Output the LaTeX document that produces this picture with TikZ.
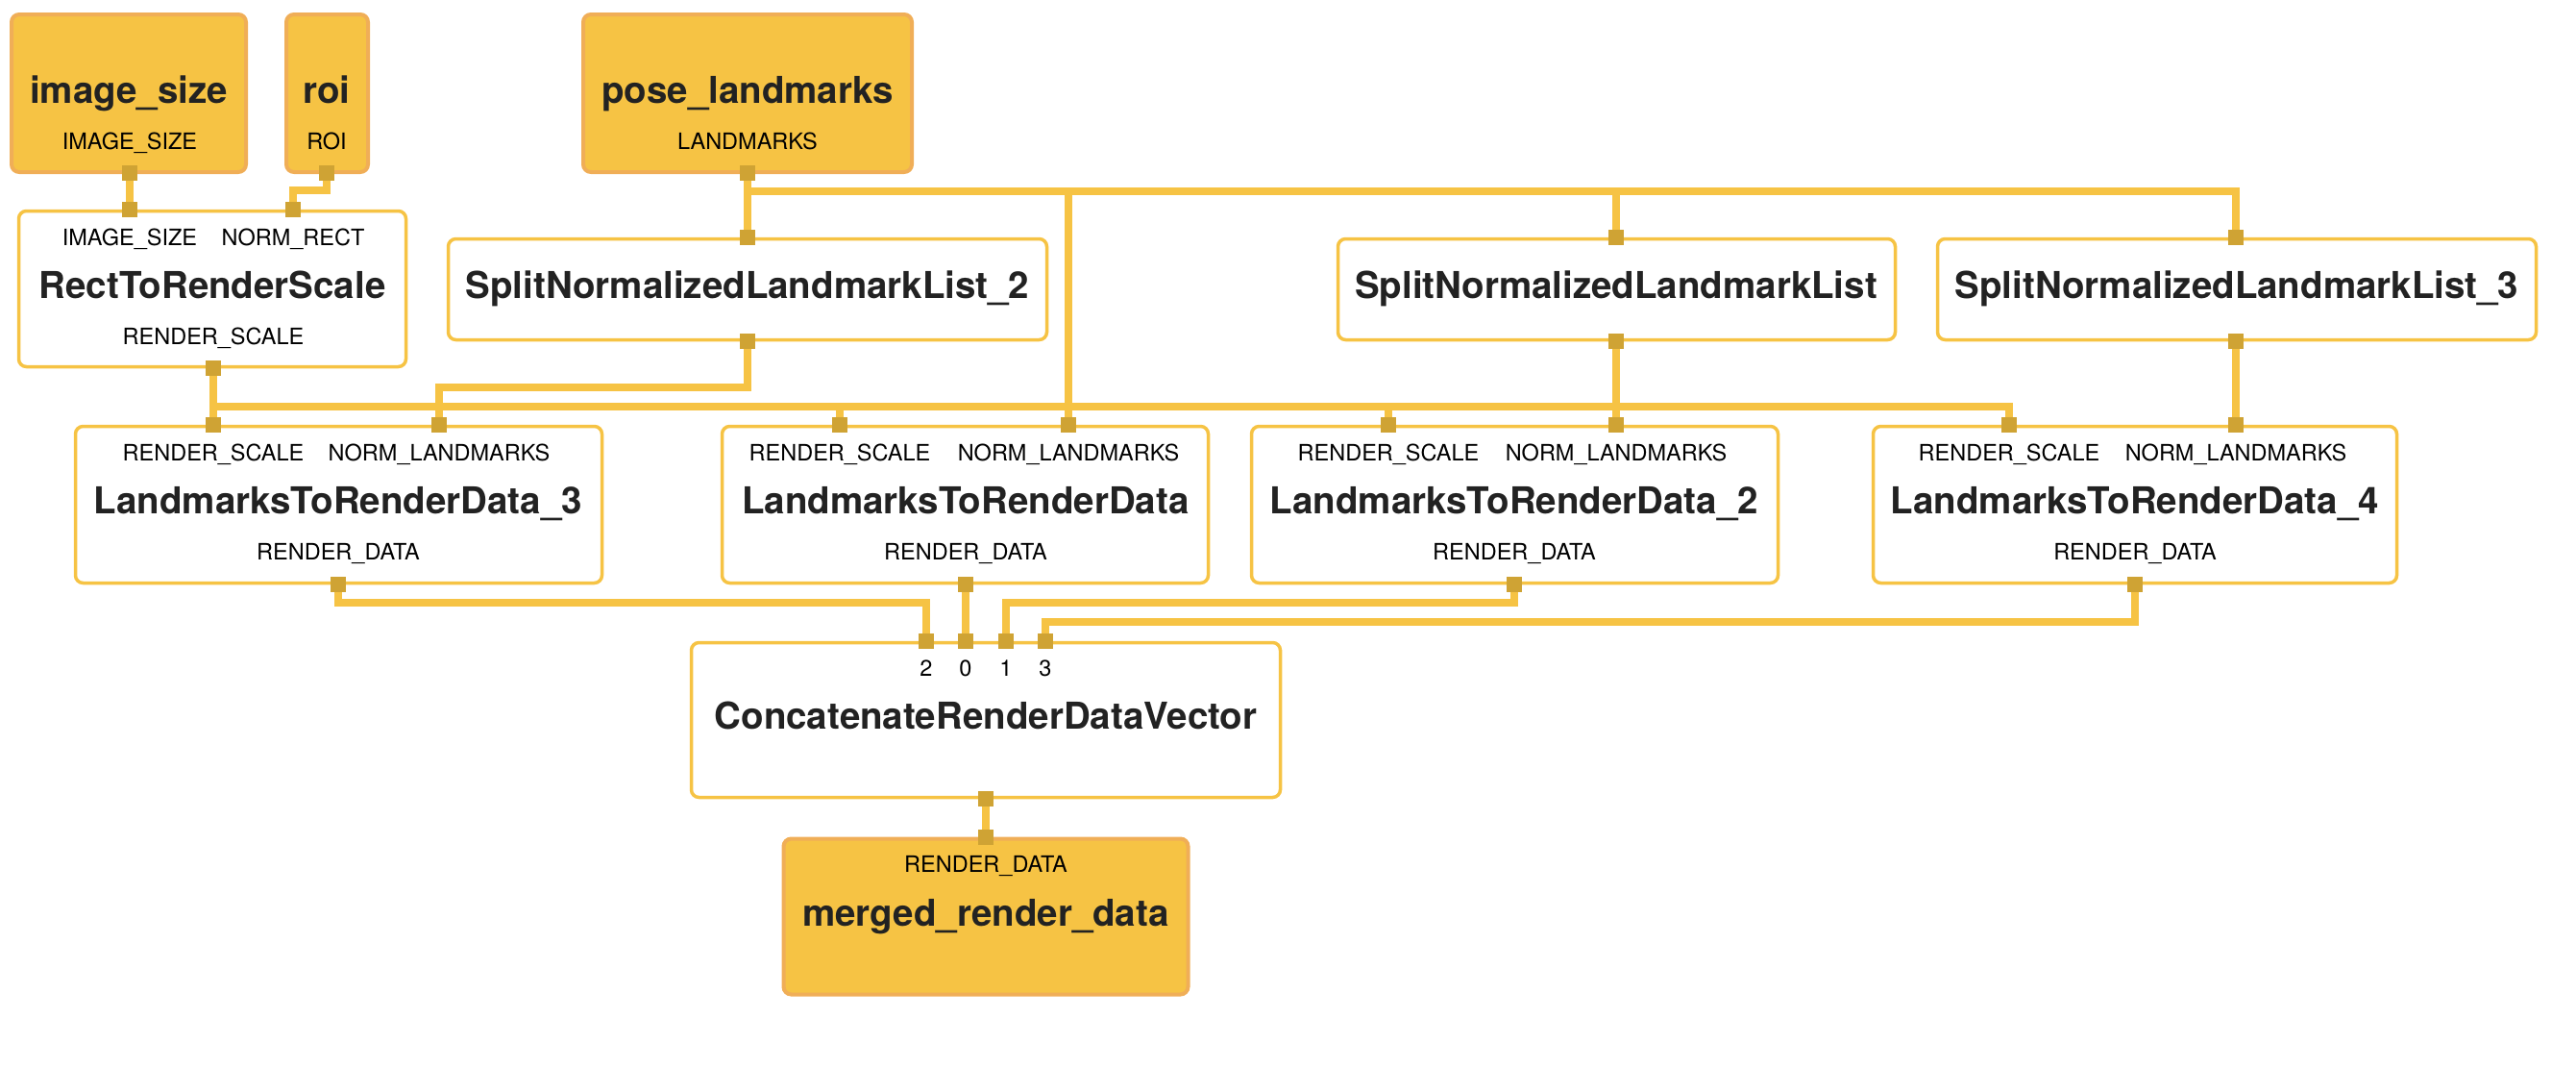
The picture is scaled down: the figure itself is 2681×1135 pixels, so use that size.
\documentclass[tikz,border=0pt]{standalone}
\usepackage{fontspec}
\setmainfont{TeX Gyre Heros}
\definecolor{edgecol}{HTML}{F6C344}
\definecolor{portcol}{HTML}{CFA334}
\definecolor{datafill}{HTML}{F6C344}
\definecolor{databorder}{HTML}{F0AE57}
\definecolor{txtcol}{HTML}{222222}
\begin{document}
\begin{tikzpicture}[x=1pt,y=-1pt,
  box/.style={draw=edgecol,line width=3.5pt,rounded corners=8pt,fill=white,inner sep=0},
  data/.style={draw=databorder,line width=4pt,rounded corners=8pt,fill=datafill,inner sep=0},
  port/.style={fill=portcol,minimum size=16pt,inner sep=0},
  edge/.style={draw=edgecol,line width=7.5pt},
  title/.style={anchor=base,font=\fontsize{38.5}{44}\selectfont\bfseries,text=txtcol,inner sep=0},
  lbl/.style={anchor=base,font=\fontsize{23.5}{28}\selectfont,text=black,inner sep=0}]
\useasboundingbox (0,0) rectangle (2681,1135);
% input streams
\node[data,minimum width=244pt,minimum height=164pt] (imgsize) at (134,97) {};
\node[title] (imgsize-t) at (134,107) {image\_size};
\node[lbl] (imgsize-l) at (135,155) {IMAGE\_SIZE};
\node[data,minimum width=85pt,minimum height=164pt] (roi) at (340.5,97) {};
\node[title] (roi-t) at (340,107) {roi};
\node[lbl] (roi-l) at (340,155) {ROI};
\node[data,minimum width=342pt,minimum height=164pt] (pose) at (778,97) {};
\node[title] (pose-t) at (778,107) {pose\_landmarks};
\node[lbl] (pose-l) at (778,155) {LANDMARKS};
% calculators
\node[box,minimum width=403pt,minimum height=162pt] (rect) at (221,300.5) {};
\node[lbl] (rect-l1) at (135,255) {IMAGE\_SIZE};
\node[lbl] (rect-l2) at (305,255) {NORM\_RECT};
\node[title] (rect-t) at (221,310) {RectToRenderScale};
\node[lbl] (rect-l3) at (222,358) {RENDER\_SCALE};
\node[box,minimum width=623pt,minimum height=105pt] (split2) at (778,301) {};
\node[title] (split2-t) at (778,310) {SplitNormalizedLandmarkList\_2};
\node[box,minimum width=580pt,minimum height=105pt] (split) at (1682.5,301) {};
\node[title] (split-t) at (1682,310) {SplitNormalizedLandmarkList};
\node[box,minimum width=623pt,minimum height=105pt] (split3) at (2328,301) {};
\node[title] (split3-t) at (2328,310) {SplitNormalizedLandmarkList\_3};
\node[box,minimum width=548pt,minimum height=163pt] (l2rd3) at (352.5,525) {};
\node[lbl] (l2rd3-l1) at (222,479) {RENDER\_SCALE};
\node[lbl] (l2rd3-l2) at (457,479) {NORM\_LANDMARKS};
\node[title] (l2rd3-t) at (352,534) {LandmarksToRenderData\_3};
\node[lbl] (l2rd3-l3) at (352,582) {RENDER\_DATA};
\node[box,minimum width=506pt,minimum height=163pt] (l2rd) at (1004.5,525) {};
\node[lbl] (l2rd-l1) at (874,479) {RENDER\_SCALE};
\node[lbl] (l2rd-l2) at (1112,479) {NORM\_LANDMARKS};
\node[title] (l2rd-t) at (1005,534) {LandmarksToRenderData};
\node[lbl] (l2rd-l3) at (1005,582) {RENDER\_DATA};
\node[box,minimum width=548pt,minimum height=163pt] (l2rd2) at (1576.5,525) {};
\node[lbl] (l2rd2-l1) at (1445,479) {RENDER\_SCALE};
\node[lbl] (l2rd2-l2) at (1682,479) {NORM\_LANDMARKS};
\node[title] (l2rd2-t) at (1576,534) {LandmarksToRenderData\_2};
\node[lbl] (l2rd2-l3) at (1576,582) {RENDER\_DATA};
\node[box,minimum width=545pt,minimum height=163pt] (l2rd4) at (2222,525) {};
\node[lbl] (l2rd4-l1) at (2091,479) {RENDER\_SCALE};
\node[lbl] (l2rd4-l2) at (2327,479) {NORM\_LANDMARKS};
\node[title] (l2rd4-t) at (2222,534) {LandmarksToRenderData\_4};
\node[lbl] (l2rd4-l3) at (2222,582) {RENDER\_DATA};
\node[box,minimum width=613pt,minimum height=161pt] (concat) at (1026,749) {};
\node[lbl] (concat-l2) at (964,703) {2};
\node[lbl] (concat-l0) at (1005,703) {0};
\node[lbl] (concat-l1) at (1047,703) {1};
\node[lbl] (concat-l3) at (1088,703) {3};
\node[title] (concat-t) at (1026,758) {ConcatenateRenderDataVector};
% output stream
\node[data,minimum width=421pt,minimum height=162pt] (merged) at (1026,953.5) {};
\node[lbl] (merged-l) at (1026,907) {RENDER\_DATA};
\node[title] (merged-t) at (1026,963) {merged\_render\_data};
% ports
\node[port] (imgsize-o) at (135,180) {};
\node[port] (roi-o) at (340,180) {};
\node[port] (pose-o) at (778,180) {};
\node[port] (rect-i1) at (135,218) {};
\node[port] (rect-i2) at (305,218) {};
\node[port] (rect-o) at (222,383) {};
\node[port] (split2-i) at (778,247) {};
\node[port] (split2-o) at (778,355) {};
\node[port] (split-i) at (1682,247) {};
\node[port] (split-o) at (1682,355) {};
\node[port] (split3-i) at (2327,247) {};
\node[port] (split3-o) at (2327,355) {};
\node[port] (l2rd3-i1) at (222,442) {};
\node[port] (l2rd3-i2) at (457,442) {};
\node[port] (l2rd3-o) at (352,608) {};
\node[port] (l2rd-i1) at (874,442) {};
\node[port] (l2rd-i2) at (1112,442) {};
\node[port] (l2rd-o) at (1005,608) {};
\node[port] (l2rd2-i1) at (1445,442) {};
\node[port] (l2rd2-i2) at (1682,442) {};
\node[port] (l2rd2-o) at (1576,608) {};
\node[port] (l2rd4-i1) at (2091,442) {};
\node[port] (l2rd4-i2) at (2327,442) {};
\node[port] (l2rd4-o) at (2222,608) {};
\node[port] (concat-i2) at (964,667) {};
\node[port] (concat-i0) at (1005,667) {};
\node[port] (concat-i1) at (1047,667) {};
\node[port] (concat-i3) at (1088,667) {};
\node[port] (concat-o) at (1026,831) {};
\node[port] (merged-i) at (1026,871) {};
% connections
\draw[edge] (imgsize-o) -- (rect-i1);
\draw[edge] (roi-o) -- ++(0,18) -| (rect-i2);
\draw[edge] (pose-o) -- ++(0,19) -| (split2-i);
\draw[edge] (pose-o) -- ++(0,19) -| (l2rd-i2);
\draw[edge] (pose-o) -- ++(0,19) -| (split-i);
\draw[edge] (pose-o) -- ++(0,19) -| (split3-i);
\draw[edge] (rect-o) -- ++(0,40) -| (l2rd3-i1);
\draw[edge] (rect-o) -- ++(0,40) -| (l2rd-i1);
\draw[edge] (rect-o) -- ++(0,40) -| (l2rd2-i1);
\draw[edge] (rect-o) -- ++(0,40) -| (l2rd4-i1);
\draw[edge] (split2-o) -- ++(0,48) -| (l2rd3-i2);
\draw[edge] (split-o) -- (l2rd2-i2);
\draw[edge] (split3-o) -- (l2rd4-i2);
\draw[edge] (l2rd3-o) -- ++(0,19) -| (concat-i2);
\draw[edge] (l2rd-o) -- (concat-i0);
\draw[edge] (l2rd2-o) -- ++(0,19) -| (concat-i1);
\draw[edge] (l2rd4-o) -- ++(0,39) -| (concat-i3);
\draw[edge] (concat-o) -- (merged-i);
\end{tikzpicture}
\end{document}
